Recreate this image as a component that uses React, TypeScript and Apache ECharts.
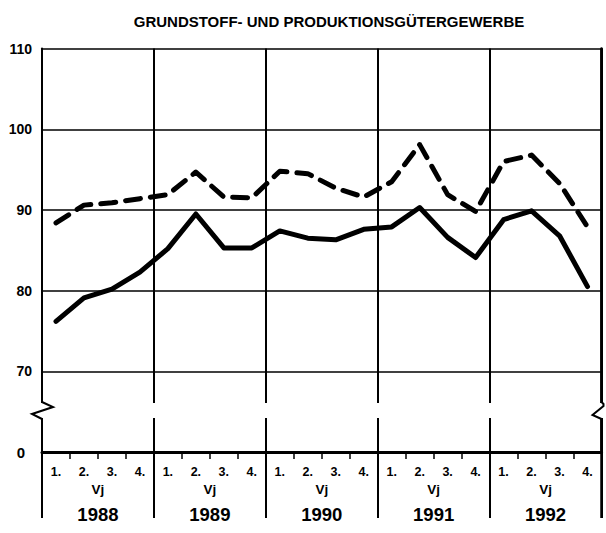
import React, { useEffect, useRef } from "react";
import * as echarts from "echarts";

const titleText = "GRUNDSTOFF- UND PRODUKTIONSGÜTERGEWERBE";
const quarterLabels = [
  "1.", "2.", "3.", "4.",
  "1.", "2.", "3.", "4.",
  "1.", "2.", "3.", "4.",
  "1.", "2.", "3.", "4.",
  "1.", "2.", "3.", "4.",
];
const years = ["1988", "1989", "1990", "1991", "1992"];
const periodLabel = "Vj";
// solid line
const solidSeries = [
  76.2, 79.1, 80.2, 82.3,
  85.2, 89.5, 85.3, 85.3,
  87.4, 86.5, 86.3, 87.6,
  87.9, 90.3, 86.6, 84.1,
  88.8, 89.9, 86.8, 80.5,
];
// dashed line
const dashedSeries = [
  88.4, 90.6, 90.9, 91.4,
  91.9, 94.7, 91.6, 91.5,
  94.8, 94.5, 92.7, 91.6,
  93.5, 98.1, 91.9, 89.8,
  96.0, 96.8, 93.3, 87.9,
];
// axis: the lowest value slot (60) stands for the broken-off zero line
const yMin = 60;
const yMax = 110;
const yStep = 10;
const zeroLabelValue = 60;

const FONT = "'Liberation Sans', Arial, Helvetica, sans-serif";

export default function App() {
  const ref = useRef<HTMLDivElement>(null);

  useEffect(() => {
    if (!ref.current) return;
    document.body.style.margin = "0";
    document.body.style.overflow = "hidden";
    const chart = echarts.init(ref.current, null, { renderer: "svg" });

    const W = 606;
    const gridLeft = 42;
    const gridRight = 4.5;
    const gridTop = 48.6;
    const gridBottom = 81;
    const plotRight = W - gridRight;
    const breakTop = 403;
    const breakBottom = 418;
    const lowerEnd = 518;

    chart.setOption({
      animation: false,
      backgroundColor: "#fff",
      grid: {
        left: gridLeft,
        right: gridRight,
        top: gridTop,
        bottom: gridBottom,
        containLabel: false,
      },
      xAxis: [
        {
          type: "category",
          data: quarterLabels,
          boundaryGap: true,
          position: "bottom",
          axisLine: { show: true, onZero: false, lineStyle: { color: "#000", width: 3 } },
          axisTick: { show: true, interval: 0, length: 7, lineStyle: { color: "#000", width: 1.5 } },
          axisLabel: {
            interval: 0,
            margin: 13,
            color: "#000",
            fontFamily: FONT,
            fontWeight: "bold",
            fontSize: 12.5,
          },
          splitLine: { show: false },
        },
        {
          type: "category",
          data: years,
          boundaryGap: true,
          position: "bottom",
          axisLine: { show: false, onZero: false },
          axisTick: { show: true, interval: 0, length: 66, lineStyle: { color: "#000", width: 2 } },
          splitLine: { show: true, interval: 0, showMaxLine: true, showMinLine: true, lineStyle: { color: "#000", width: 2 } },
          axisLabel: {
            interval: 0,
            margin: 29,
            color: "#000",
            fontFamily: FONT,
            formatter: (v: string) => `{v|${periodLabel}}\n{y|${v}}`,
            rich: {
              v: { fontSize: 13.5, fontWeight: "bold", fontFamily: FONT, lineHeight: 16, color: "#000" },
              y: { fontSize: 18.5, fontWeight: "bold", fontFamily: FONT, lineHeight: 34, color: "#000" },
            },
          },
        },
      ],
      yAxis: [
        {
          type: "value",
          min: yMin,
          max: yMax,
          interval: yStep,
          axisLine: { show: true, lineStyle: { color: "#000", width: 2 } },
          axisTick: { show: false },
          splitLine: { show: true, lineStyle: { color: "#000", width: 1.6 } },
          axisLabel: {
            margin: 10,
            color: "#000",
            fontFamily: FONT,
            fontWeight: "bold",
            fontSize: 14,
            formatter: (v: number) => (v === zeroLabelValue ? "{z|0}" : String(v)),
            rich: {
              z: { fontSize: 15, fontWeight: "bold", fontFamily: FONT, color: "#000", padding: [0, 7, 0, 0] },
            },
          },
        },
        {
          type: "value",
          position: "right",
          min: yMin,
          max: yMax,
          interval: yStep,
          axisLine: { show: true, lineStyle: { color: "#000", width: 2.5 } },
          axisTick: { show: false },
          axisLabel: { show: false },
          splitLine: { show: false },
        },
      ],
      series: [
        {
          type: "line",
          data: solidSeries,
          xAxisIndex: 0,
          yAxisIndex: 0,
          symbol: "none",
          z: 5,
          lineStyle: { color: "#000", width: 5, cap: "round", join: "round" },
        },
        {
          type: "line",
          data: dashedSeries,
          xAxisIndex: 0,
          yAxisIndex: 0,
          symbol: "none",
          z: 5,
          lineStyle: { color: "#000", width: 5, type: [15, 10], cap: "round", join: "round" },
        },
      ],
      graphic: [
        {
          type: "text",
          x: 329,
          y: 21,
          style: {
            text: titleText,
            fill: "#000",
            font: `bold 15px ${FONT}`,
            textAlign: "center",
            textVerticalAlign: "middle",
          },
        },
        {
          type: "line",
          z: 40,
          shape: { x1: plotRight, y1: gridTop, x2: plotRight, y2: lowerEnd },
          style: { stroke: "#000", lineWidth: 2.5 },
        },
        {
          type: "rect",
          z: 50,
          shape: { x: gridLeft - 3, y: breakTop, width: W - gridLeft + 3, height: breakBottom - breakTop },
          style: { fill: "#fff" },
        },
        {
          type: "polyline",
          z: 60,
          shape: {
            points: [
              [gridLeft, breakTop - 1],
              [gridLeft + 11, breakTop + 4],
              [gridLeft - 10, breakTop + 11],
              [gridLeft, breakBottom + 1],
            ],
          },
          style: { stroke: "#000", lineWidth: 2, fill: "none" },
        },
        {
          type: "polyline",
          z: 60,
          shape: {
            points: [
              [plotRight, breakTop - 1],
              [plotRight + 2, breakTop + 1],
              [plotRight + 2, breakTop + 3],
              [plotRight - 9, breakTop + 12],
              [plotRight, breakBottom + 1],
            ],
          },
          style: { stroke: "#000", lineWidth: 2, fill: "none" },
        },
      ],
    });

    return () => chart.dispose();
  }, []);

  return <div ref={ref} style={{ width: 606, height: 533 }} />;
}
